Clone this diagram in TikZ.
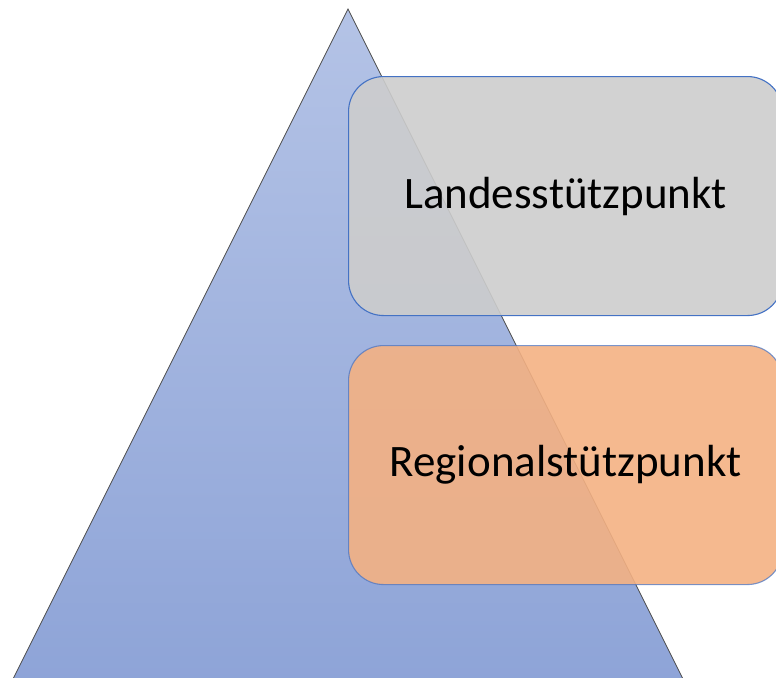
\documentclass[tikz,border=0pt]{standalone}
\usepackage{fontspec}
\setmainfont{Carlito}
\begin{document}
\begin{tikzpicture}[x=1pt,y=-1pt,
  pyr/.style={draw=black!70,line width=0.8pt,top color=pyrtop,bottom color=pyrbot},
  lvlbox/.style={draw=boxline,line width=1.1pt,rounded corners=35pt,fill opacity=0.9,text opacity=1,
    minimum width=434pt,minimum height=239pt,inner sep=0pt,font=\fontsize{45}{50}\selectfont},
]
\definecolor{pyrtop}{HTML}{B4C3E6}
\definecolor{pyrbot}{HTML}{8DA3D7}
\definecolor{boxline}{HTML}{4472C4}
\definecolor{graybox}{HTML}{CDCDCD}
\definecolor{orangebox}{HTML}{F4B183}
\useasboundingbox (0,0) rectangle (776,677);
\clip (0,0) rectangle (776,677);
\path[pyr] (348,9) -- (693.5,700) -- (2.5,700) -- cycle;
\node[lvlbox,fill=graybox,anchor=north west] (land) at (348,76) {\raisebox{-3pt}{Landesstützpunkt}};
\node[lvlbox,fill=orangebox,draw opacity=0.7,anchor=north west] (reg) at (348,345) {\raisebox{-3pt}{Regionalstützpunkt}};
\end{tikzpicture}
\end{document}
